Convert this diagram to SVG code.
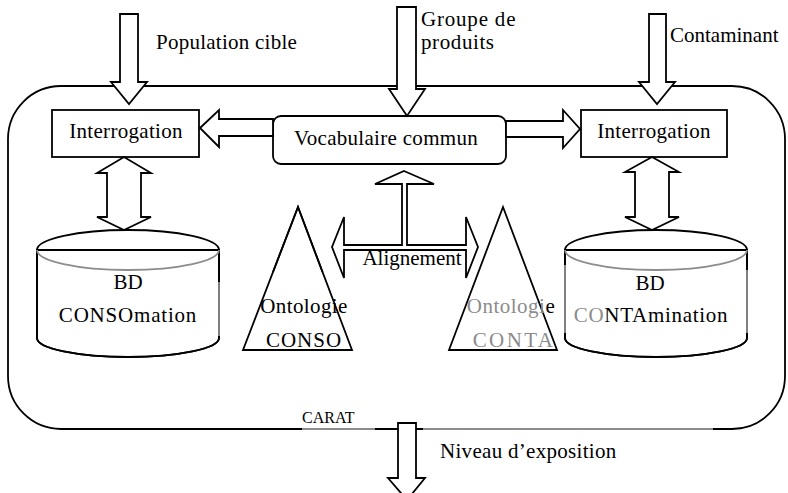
<svg xmlns="http://www.w3.org/2000/svg" width="788" height="493" viewBox="0 0 788 493">
<style>
.s{fill:#fff;stroke:#000;stroke-width:1.8;stroke-linejoin:miter}
.n{fill:none;stroke:#000;stroke-width:1.8}
.gl{fill:none;stroke:#8c8c8c;stroke-width:1.8}
.t{font-family:"Liberation Serif","Times New Roman",serif;font-size:21px;fill:#000}
.m{text-anchor:middle}
.g{fill:#8c8c8c}
</style>
<rect width="788" height="493" fill="#fff"/>
<g id="carat-frame">
<rect class="n" x="8" y="86" width="777" height="343" rx="53" ry="53"/>
<path class="gl" d="M302,429 H375 M423,429 H713"/>
<text class="t" x="302" y="423" style="font-size:16px">CARAT</text>
</g>
<g id="interrogation-left">
<rect class="s" x="52" y="110" width="147" height="47"/>
<text class="t m" x="126" y="138" letter-spacing="0.3">Interrogation</text>
</g>
<g id="interrogation-right">
<rect class="s" x="581" y="110" width="146" height="47"/>
<text class="t m" x="654" y="138" letter-spacing="0.3">Interrogation</text>
</g>
<g id="vocabulaire">
<rect class="s" x="273" y="116" width="233" height="48" rx="8" ry="8"/>
<text class="t m" x="386" y="145" letter-spacing="0.3">Vocabulaire commun</text>
</g>
<g id="bd-conso">
<path class="s" d="M37,250 V338 A91,19 0 0 0 219,338 V250 Z" stroke="none"/>
<path class="n" d="M37,250 V338 A91,19 0 0 0 219,338 V278"/>
<path class="gl" d="M219,282 V336"/>
<path class="n" d="M219,250 V282 M37,250 A91,20 0 0 1 219,250"/>
<path class="gl" d="M37,250 A91,20 0 0 0 219,250"/>
<text class="t m" x="128" y="289">BD</text>
<text class="t m" x="128" y="322" letter-spacing="0.8">CONSOmation</text>
</g>
<g id="bd-conta">
<path class="s" d="M565,250 V338 A91,19 0 0 0 747,338 V250 Z" stroke="none"/>
<path class="gl" d="M565,265 V333 M747,270 V333"/>
<path class="n" d="M565,250 V265 M747,250 V270 M565,333 V338 A91,19 0 0 0 747,338 V333 M565,250 A91,20 0 0 1 747,250"/>
<path class="gl" d="M565,250 A91,20 0 0 0 747,250"/>
<text class="t m" x="650" y="290">BD</text>
<text class="t m" x="651" y="322" letter-spacing="0.7"><tspan class="g">CO</tspan>NTAmination</text>
</g>
<g id="ontologie-conso">
<polygon class="s" points="298,207 352,350 243,350" stroke="#8c8c8c"/>
<polyline class="n" points="273,272 298,207 322.5,272"/>
<text class="t m" x="304" y="313" letter-spacing="0.4">Ontologie</text>
<text class="t m" x="304" y="347" letter-spacing="1">CONSO</text>
</g>
<g id="ontologie-conta">
<polygon class="s" points="503,207 557,350 449,350"/>
<text class="t m" x="511" y="313" letter-spacing="0.5"><tspan class="g">Ontologi</tspan>e</text>
<text class="t m g" x="514" y="347" letter-spacing="2.4">CONTA</text>
</g>
<g id="connectors">
<polygon class="s" points="120,14 138,14 138,82 147,82 129,104 111,82 120,82"/>
<polygon class="s" points="397,7 416,7 416,89 425,89 407,116 389,89 397,89"/>
<polygon class="s" points="649,14 666,14 666,82 675,82 657,104 639,82 649,82"/>
<polygon class="s" points="200,128 219,110 219,119 273,119 273,136 219,136 219,147"/>
<polygon class="s" points="506,121 563,121 563,110 580,129 563,148 563,137 506,137"/>
<polygon class="s" points="124,157 151,173 141,173 141,217 151,217 124,230 97,217 107,217 107,173 97,173"/>
<polygon class="s" points="652,157 679,172 669,172 669,217 679,217 652,230 625,217 635,217 635,172 625,172"/>
<polygon class="s" points="404,171 434,184 407,184 407,245 466,245 466,217 478,247 466,278 466,250 344,250 344,278 332,247 344,217 344,245 402,245 402,184 375,184"/>
<polygon class="s" points="398,423 416,423 416,478 425,478 407,500 388,478 398,478"/>
<text class="t" x="156" y="49" letter-spacing="0.25">Population cible</text>
<text class="t" x="421" y="26" letter-spacing="0.8">Groupe de</text>
<text class="t" x="421" y="49" letter-spacing="0.6">produits</text>
<text class="t" x="670" y="42">Contaminant</text>
<text class="t m" x="412" y="265">Alignement</text>
<text class="t" x="440" y="458" letter-spacing="0.3">Niveau d’exposition</text>
</g>
</svg>
